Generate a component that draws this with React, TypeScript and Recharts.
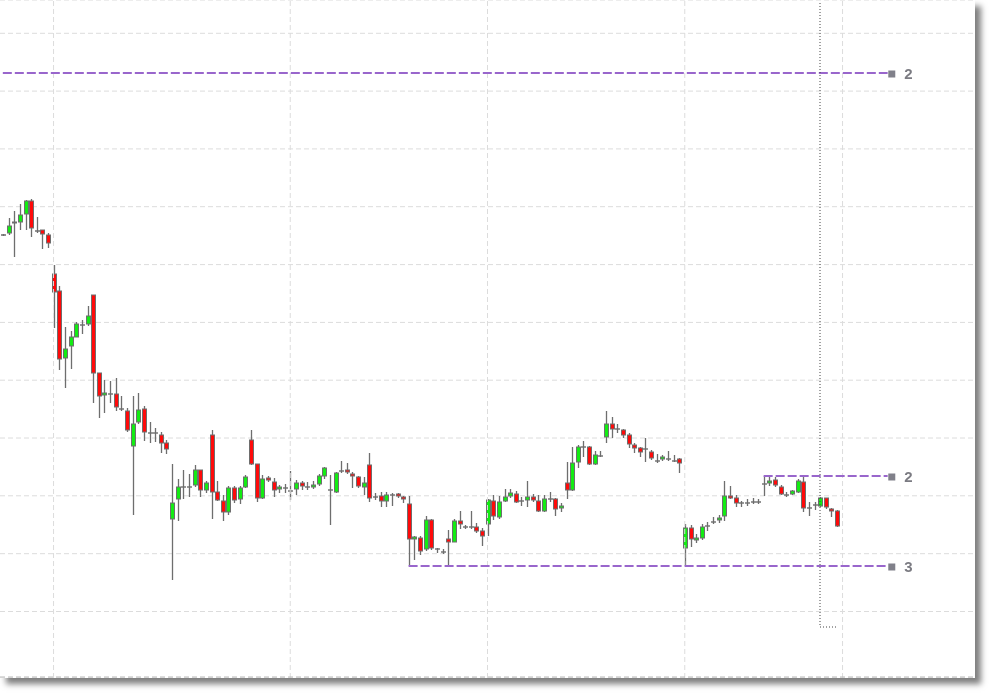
import React from "react";
import {
  ComposedChart,
  Bar,
  XAxis,
  YAxis,
  CartesianGrid,
  ReferenceLine,
  ReferenceDot,
} from "recharts";

// candle values, oldest first
const opens = [
  4.65, 4.67, 4.77, 4.78, 4.86, 4.99, 4.69, 4.70, 4.65, 4.26,
  4.09, 3.42, 3.54, 3.63, 3.75, 3.76, 4.05, 3.27, 3.05, 3.06,
  3.06, 2.91, 2.89, 2.54, 2.78, 2.91, 2.67, 2.67, 2.65, 2.57,
  1.81, 2.01, 2.13, 2.13, 2.15, 2.30, 2.10, 2.65, 2.08, 1.99,
  1.88, 2.12, 2.01, 2.13, 2.60, 2.36, 2.02, 2.22, 2.18, 2.11,
  2.12, 2.09, 2.11, 2.17, 2.13, 2.13, 2.16, 2.24, 2.10, 2.08,
  2.29, 2.30, 2.26, 2.23, 2.13, 2.35, 2.03, 2.04, 1.99, 2.05,
  2.06, 2.03, 1.96, 1.61, 1.62, 1.51, 1.80, 1.51, 1.48, 1.61,
  1.58, 1.79, 1.73, 1.73, 1.73, 1.69, 1.76, 1.99, 1.83, 1.99,
  2.04, 2.06, 1.99, 2.00, 2.03, 1.99, 1.89, 2.01, 2.01, 1.92,
  2.17, 2.10, 2.38, 2.53, 2.53, 2.36, 2.44, 2.63, 2.76, 2.71,
  2.70, 2.65, 2.55, 2.52, 2.51, 2.48, 2.39, 2.41, 2.41, 2.39,
  2.41, 1.52, 1.72, 1.60, 1.62, 1.74, 1.78, 1.80, 1.84, 2.04,
  2.02, 1.97, 1.97, 1.98, 1.98, 2.16, 2.17, 2.20, 2.13, 2.05,
  2.06, 2.08, 2.18, 1.92, 1.95, 1.94, 2.02, 1.91, 1.89,
];

const highs = [
  4.66, 4.82, 4.89, 4.96, 5.00, 5.01, 4.83, 4.70, 4.67, 4.35,
  4.14, 3.73, 3.69, 3.78, 3.80, 3.94, 4.05, 3.27, 3.20, 3.19,
  3.22, 3.04, 2.92, 3.04, 3.07, 2.94, 2.78, 2.72, 2.68, 2.60,
  2.36, 2.21, 2.30, 2.26, 2.35, 2.30, 2.19, 2.70, 2.19, 2.05,
  2.14, 2.14, 2.14, 2.25, 2.70, 2.36, 2.25, 2.24, 2.22, 2.15,
  2.16, 2.29, 2.20, 2.19, 2.18, 2.19, 2.26, 2.33, 2.25, 2.28,
  2.39, 2.37, 2.28, 2.24, 2.23, 2.47, 2.07, 2.08, 2.08, 2.07,
  2.07, 2.04, 2.04, 1.64, 1.64, 1.84, 1.81, 1.52, 1.51, 1.70,
  1.81, 1.89, 1.75, 1.89, 1.77, 1.72, 2.01, 2.05, 2.04, 2.11,
  2.11, 2.09, 2.03, 2.19, 2.06, 2.05, 2.05, 2.08, 2.02, 1.97,
  2.38, 2.53, 2.55, 2.59, 2.54, 2.49, 2.49, 2.89, 2.83, 2.76,
  2.71, 2.67, 2.57, 2.53, 2.62, 2.50, 2.46, 2.45, 2.49, 2.45,
  2.42, 1.76, 1.75, 1.66, 1.76, 1.78, 1.83, 1.85, 2.19, 2.14,
  2.05, 1.99, 2.01, 2.02, 2.01, 2.24, 2.23, 2.23, 2.15, 2.08,
  2.10, 2.21, 2.24, 1.98, 1.98, 2.03, 2.02, 1.92, 1.90,
];

const lows = [
  4.64, 4.65, 4.43, 4.70, 4.70, 4.63, 4.67, 4.51, 4.52, 3.72,
  3.30, 3.12, 3.31, 3.63, 3.66, 3.74, 2.97, 2.82, 2.87, 2.97,
  2.89, 2.89, 2.68, 1.85, 2.76, 2.59, 2.57, 2.58, 2.47, 2.46,
  1.20, 1.79, 2.01, 2.03, 2.13, 2.03, 2.07, 1.81, 1.99, 1.79,
  1.85, 1.97, 1.96, 2.12, 2.35, 1.98, 2.01, 2.18, 2.03, 2.07,
  2.07, 2.00, 2.05, 2.10, 2.10, 2.11, 2.14, 2.21, 1.75, 2.07,
  2.27, 2.26, 2.12, 2.12, 2.05, 1.98, 2.00, 1.93, 1.93, 1.94,
  2.02, 1.97, 1.34, 1.40, 1.45, 1.49, 1.50, 1.47, 1.46, 1.34,
  1.58, 1.71, 1.71, 1.71, 1.67, 1.54, 1.64, 1.80, 1.81, 1.98,
  2.02, 1.97, 1.94, 1.93, 1.98, 1.88, 1.88, 1.98, 1.84, 1.88,
  2.01, 2.09, 2.32, 2.43, 2.35, 2.35, 2.43, 2.57, 2.62, 2.67,
  2.62, 2.52, 2.47, 2.43, 2.38, 2.40, 2.37, 2.39, 2.39, 2.38,
  2.27, 1.34, 1.53, 1.57, 1.60, 1.69, 1.76, 1.77, 1.79, 2.01,
  1.93, 1.93, 1.94, 1.96, 1.96, 2.04, 2.14, 2.13, 2.05, 2.03,
  2.05, 2.07, 1.88, 1.84, 1.90, 1.93, 1.91, 1.83, 1.73,
];

const closes = [
  4.65, 4.74, 4.78, 4.85, 4.99, 4.72, 4.69, 4.66, 4.57, 4.08,
  3.41, 3.51, 3.63, 3.76, 3.75, 3.84, 3.27, 3.04, 3.07, 3.06,
  2.93, 2.91, 2.70, 2.76, 2.90, 2.68, 2.67, 2.67, 2.57, 2.51,
  1.97, 2.13, 2.13, 2.13, 2.30, 2.10, 2.17, 2.08, 2.00, 1.88,
  2.12, 2.00, 2.12, 2.23, 2.36, 2.02, 2.21, 2.20, 2.10, 2.13,
  2.12, 2.09, 2.17, 2.14, 2.13, 2.15, 2.24, 2.32, 2.10, 2.27,
  2.29, 2.28, 2.24, 2.14, 2.17, 2.02, 2.03, 1.99, 2.05, 2.05,
  2.04, 2.01, 1.61, 1.63, 1.49, 1.80, 1.52, 1.51, 1.48, 1.58,
  1.79, 1.76, 1.73, 1.73, 1.69, 1.64, 2.00, 1.84, 1.98, 2.03,
  2.07, 1.98, 1.99, 2.03, 2.00, 1.89, 2.01, 2.01, 1.91, 1.94,
  2.10, 2.37, 2.53, 2.53, 2.36, 2.45, 2.44, 2.76, 2.71, 2.71,
  2.65, 2.56, 2.52, 2.48, 2.51, 2.42, 2.39, 2.43, 2.41, 2.39,
  2.37, 1.72, 1.61, 1.62, 1.73, 1.74, 1.78, 1.82, 2.04, 2.02,
  1.97, 1.97, 1.97, 1.98, 1.98, 2.16, 2.19, 2.15, 2.06, 2.05,
  2.09, 2.19, 1.92, 1.92, 1.95, 2.02, 1.93, 1.89, 1.74,
];

// total bar slots on the axis (right side left empty)
const SLOTS = 173;
// bars where a new session starts (vertical grid)
const sessionStarts = [9, 51, 86, 121, 149];
const gridTicks = [
  0.307, 0.885, 1.463, 2.042, 2.62, 3.198, 3.776, 4.354, 4.933, 5.511, 6.089, 6.667,
];

// horizontal levels drawn on the chart
const levelValues = [6.27, 2.24, 1.34];
const levelFrom = [0, 135, 72];
const levelLabels = ["2", "2", "3"];
const LEVEL_END = 157;

// cursor
const cursorBar = 145;
const cursorEndBar = 148;
const cursorTop = 6.97;
const cursorBottom = 0.73;

const GREEN = "#13ec13";
const RED = "#ff0a0a";
const EDGE = "#6e6e6e";
const PURPLE = "#9966cc";

const data = Array.from({ length: SLOTS }, (_, i) =>
  i < opens.length
    ? {
        i,
        range: [lows[i], highs[i]],
        open: opens[i],
        high: highs[i],
        low: lows[i],
        close: closes[i],
      }
    : { i, range: null }
);

function Candle(props: any) {
  const { x, y, width, height, payload } = props;
  if (!payload || payload.open == null) return <g />;
  const top = Math.min(y, y + height);
  const bottom = Math.max(y, y + height);
  const span = payload.high - payload.low;
  const toY = (v: number) =>
    span > 0 ? top + ((payload.high - v) / span) * (bottom - top) : top;
  const cx = Math.round(x + width / 2) + 0.5;
  const yo = toY(payload.open);
  const yc = toY(payload.close);
  const flat = payload.open === payload.close;
  const up = payload.close > payload.open;
  const bTop = Math.min(yo, yc);
  const bH = Math.max(Math.abs(yc - yo), 1);
  return (
    <g>
      <line x1={cx} x2={cx} y1={top} y2={bottom} stroke={EDGE} strokeWidth={1.3} />
      {flat ? (
        <line x1={cx - 2.5} x2={cx + 2.5} y1={yo} y2={yo} stroke={EDGE} strokeWidth={1.4} />
      ) : (
        <rect
          x={cx - 2}
          y={bTop}
          width={4}
          height={bH}
          fill={up ? GREEN : RED}
          stroke={EDGE}
          strokeWidth={1}
        />
      )}
    </g>
  );
}

function LevelTag(label: string) {
  return (props: any) => {
    const { cx, cy } = props;
    return (
      <g>
        <rect x={cx - 5} y={cy - 2.5} width={7} height={7} fill="#80808a" />
        <text
          x={cx + 11}
          y={cy + 6}
          fontFamily="'Liberation Sans', Arial, sans-serif"
          fontWeight="bold"
          fontSize={15}
          fill="#7b7b82"
        >
          {label}
        </text>
      </g>
    );
  };
}

export default function App() {
  return (
    <div
      style={{
        position: "fixed",
        left: 0,
        top: 0,
        width: 975,
        height: 678,
        background: "#fff",
        boxShadow: "6px 6px 6px rgba(0,0,0,0.5)",
      }}
    >
      <ComposedChart
        width={975}
        height={678}
        data={data}
        margin={{ top: 0, right: 0, bottom: 0, left: 0 }}
        barCategoryGap={0}
      >
        <CartesianGrid
          vertical={false}
          stroke="#dcdcdc"
          strokeDasharray="5 3"
        />
        <XAxis dataKey="i" type="category" hide />
        <YAxis type="number" domain={[0.22, 7]} ticks={gridTicks} allowDataOverflow hide />

        {sessionStarts.map((s) => (
          <ReferenceLine key={"s" + s} x={s} stroke="#dcdcdc" strokeDasharray="5 3" />
        ))}
        <ReferenceLine y={0.23} stroke="#b8b8b8" strokeDasharray="5 3" />

        <Bar dataKey="range" shape={Candle} isAnimationActive={false} />

        {levelValues.map((v, k) => (
          <ReferenceLine
            key={"l" + k}
            segment={[
              { x: levelFrom[k], y: v },
              { x: LEVEL_END, y: v },
            ]}
            stroke={PURPLE}
            strokeWidth={2}
            strokeDasharray="9 3"
          />
        ))}
        {levelValues.map((v, k) => (
          <ReferenceDot
            key={"d" + k}
            x={LEVEL_END + 1}
            y={v}
            r={0}
            shape={LevelTag(levelLabels[k])}
          />
        ))}

        <ReferenceLine
          segment={[
            { x: cursorBar, y: cursorTop },
            { x: cursorBar, y: cursorBottom },
          ]}
          stroke="#444"
          strokeDasharray="1 2"
        />
        <ReferenceLine
          segment={[
            { x: cursorBar, y: cursorBottom },
            { x: cursorEndBar, y: cursorBottom },
          ]}
          stroke="#444"
          strokeDasharray="1 2"
        />
      </ComposedChart>
    </div>
  );
}
